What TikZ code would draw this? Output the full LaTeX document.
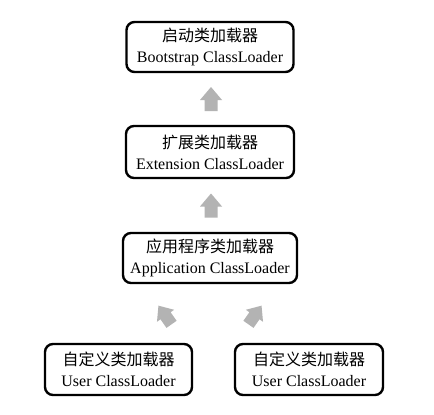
\documentclass[tikz,border=0pt]{standalone}
\usepackage{fontspec}
\setmainfont{Liberation Serif}
\newfontfamily\cjk{Noto Sans CJK SC}
\usetikzlibrary{calc}
\definecolor{arrowgray}{HTML}{B3B3B3}
\begin{document}
\begin{tikzpicture}[x=1pt,y=-1pt,
  loader/.style={draw=black, line width=2.4pt, rounded corners=8pt, fill=white,
    align=center, inner sep=0pt, minimum height=50pt,
    font=\fontsize{16}{21}\selectfont},
  pics/uparrow/.style={code={
    \fill[arrowgray] (0,-12) -- (11,1) -- (6.5,1) -- (6.5,12) -- (-6.5,12)
      -- (-6.5,1) -- (-11,1) -- cycle;}}
]
\useasboundingbox (0,0) rectangle (434,415);
\fill[white] (0,0) rectangle (434,415);

\node[loader, minimum width=167pt] (boot) at (210,47)
  {{\cjk 启动类加载器}\\Bootstrap ClassLoader};
\node[loader, minimum width=168pt, minimum height=52pt] (ext) at (210,152)
  {{\cjk 扩展类加载器}\\Extension ClassLoader};
\node[loader, minimum width=174pt] (app) at (210,258)
  {{\cjk 应用程序类加载器}\\Application ClassLoader};
\node[loader, minimum width=147pt, minimum height=51pt] (user1) at (118.5,369.5)
  {{\cjk 自定义类加载器}\\User ClassLoader};
\node[loader, minimum width=148pt, minimum height=51pt] (user2) at (309,369.5)
  {{\cjk 自定义类加载器}\\User ClassLoader};

% block arrows pointing from each child loader to its parent
\pic at ($(ext.north)!0.5!(boot.south)+(1,0)$) {uparrow};
\pic at ($(app.north)!0.5!(ext.south)+(1,0)$) {uparrow};
\pic[rotate=35, scale=0.95] at (165,315) {uparrow};
\pic[rotate=-35, scale=0.95] at (255,315) {uparrow};
\end{tikzpicture}
\end{document}
